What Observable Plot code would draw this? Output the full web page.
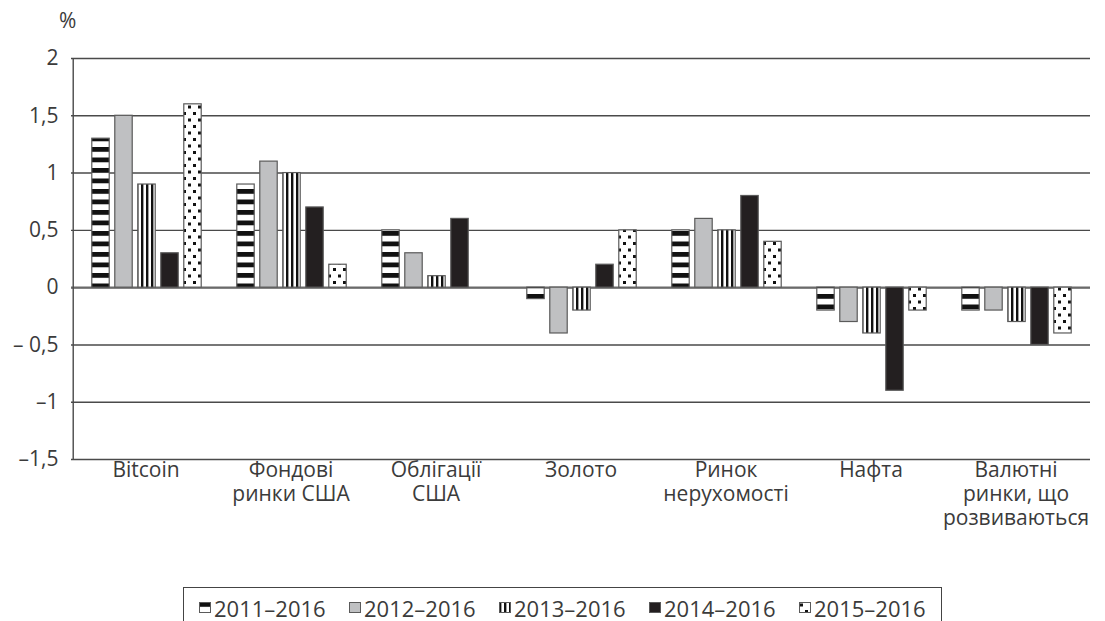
<!DOCTYPE html>
<html>
<head>
<meta charset="utf-8">
<script src="https://cdn.jsdelivr.net/npm/d3@7"></script>
<script src="https://cdn.jsdelivr.net/npm/@observablehq/plot@0.6"></script>
<style>
  html, body { margin: 0; padding: 0; background: #fff; }
  body { width: 1105px; height: 621px; position: relative; overflow: hidden; font-family: "Open Sans", sans-serif; color: #3b3b3b; }
  #chart { position: absolute; left: 0; top: 0; }
  #pct { position: absolute; left: 59px; top: 6px; font-size: 21px; }
  #legend { position: absolute; left: 183px; top: 587px; width: 759px; height: 40px; border: 1.5px solid #444; border-bottom: none; box-sizing: border-box; display: flex; flex-wrap: nowrap; align-items: flex-start; padding-left: 15px; padding-top: 7px; font-size: 22px; line-height: 26px; white-space: nowrap; overflow: visible; }
  .item { display: flex; align-items: center; flex: 0 0 auto; width: 150px; white-space: nowrap; }
  .item svg { margin-right: 2px; flex: 0 0 auto; }
</style>
</head>
<body>
<svg width="0" height="0" style="position:absolute">
  <defs>
    <pattern id="p-h" patternUnits="userSpaceOnUse" width="10" height="10.5">
      <rect width="10" height="10.5" fill="#fff"/>
      <rect width="10" height="4.8" fill="#111"/>
    </pattern>
    <pattern id="p-v" patternUnits="userSpaceOnUse" width="5" height="10">
      <rect width="5" height="10" fill="#fff"/>
      <rect width="2.4" height="10" fill="#111"/>
    </pattern>
    <pattern id="p-d" patternUnits="userSpaceOnUse" width="10" height="13">
      <rect width="10" height="13" fill="#fff"/>
      <rect x="1" y="1.5" width="3" height="3" fill="#111"/>
      <rect x="6" y="8" width="3" height="3" fill="#111"/>
    </pattern>
  </defs>
</svg>
<div id="pct">%</div>
<div id="chart"></div>
<div id="legend"></div>
<script>
const categories = ["Bitcoin", "Фондові\nринки США", "Облігації\nСША", "Золото", "Ринок\nнерухомості", "Нафта", "Валютні\nринки, що\nрозвиваються"];
const seriesNames = ["2011–2016", "2012–2016", "2013–2016", "2014–2016", "2015–2016"];
const s2011 = [1.3, 0.9, 0.5, -0.1, 0.5, -0.2, -0.2];
const s2012 = [1.5, 1.1, 0.3, -0.4, 0.6, -0.3, -0.2];
const s2013 = [0.9, 1.0, 0.1, -0.2, 0.5, -0.4, -0.3];
const s2014 = [0.3, 0.7, 0.6, 0.2, 0.8, -0.9, -0.5];
const s2015 = [1.6, 0.2, 0.0, 0.5, 0.4, -0.2, -0.4];
const yTicks = [2, 1.5, 1, 0.5, 0, -0.5, -1, -1.5];
const yTickLabels = ["2", "1,5", "1", "0,5", "0", "– 0,5", "–1", "–1,5"];

const seriesValues = [s2011, s2012, s2013, s2014, s2015];
const fills = ["url(#p-h)", "#bfc0c2", "url(#p-v)", "#231f20", "url(#p-d)"];

const W = 1105, H = 560, mL = 71, mR = 15, mT = 58, mB = 101;
const bw = (W - mL - mR) / categories.length;
const barW = 18, step = 23;

const marks = [
  Plot.ruleY(yTicks, {stroke: "#4a4a4a", strokeWidth: 1.4}),
  Plot.ruleY([0], {stroke: "#6a6a6a", strokeWidth: 2.4}),
  Plot.ruleX([categories[0]], {dx: -bw / 2, y1: -1.5, y2: 2, stroke: "#4a4a4a", strokeWidth: 1.4})
];
seriesValues.forEach((vals, i) => {
  const rows = categories.map((c, j) => ({cat: c, v: vals[j]}));
  marks.push(Plot.barY(rows, {
    x: "cat", y1: 0, y2: "v",
    fill: fills[i], stroke: "#5a5a5a", strokeWidth: 1.2,
    insetLeft: (bw - barW) / 2, insetRight: (bw - barW) / 2,
    dx: (i - 2) * step + 1
  }));
});
marks.push(Plot.axisY(yTicks, {tickSize: 0, tickPadding: 13, tickFormat: d => yTickLabels[yTicks.indexOf(d)], fontSize: 21}));
marks.push(Plot.axisX({tickSize: 0, tickPadding: 0, fontSize: 21, lineHeight: 1.15, label: null}));

const chart = Plot.plot({
  width: W, height: H,
  marginLeft: mL, marginRight: mR, marginTop: mT, marginBottom: mB,
  style: {fontFamily: "Open Sans", fontSize: "21px", color: "#3b3b3b", background: "transparent"},
  x: {domain: categories, padding: 0, label: null},
  y: {domain: [-1.5, 2], label: null},
  marks
});
document.getElementById("chart").append(chart);

const legend = document.getElementById("legend");
seriesNames.forEach((name, i) => {
  const item = document.createElement("div");
  item.className = "item";
  item.innerHTML = `<svg width="13" height="12"><rect x="0.5" y="0.5" width="11" height="10" fill="${fills[i]}" stroke="#5a5a5a" stroke-width="1"/></svg><span>${name}</span>`;
  legend.append(item);
});
</script>
</body>
</html>
